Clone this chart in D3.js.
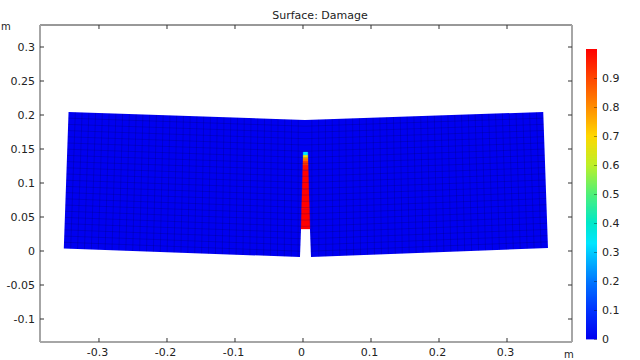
<!DOCTYPE html>
<html>
<head>
<meta charset="utf-8">
<script src="https://d3js.org/d3.v7.min.js"></script>
<style>
html, body { margin: 0; padding: 0; background: #fff; }
svg { display: block; }
text { font-family: "DejaVu Sans", sans-serif; font-size: 11px; fill: #222; }
</style>
</head>
<body>
<div id="chart"></div>
<script>
var xTicks = [-0.3, -0.2, -0.1, 0, 0.1, 0.2, 0.3];
var yTicks = [-0.1, -0.05, 0, 0.05, 0.1, 0.15, 0.2, 0.25, 0.3];
var barTicks = [0, 0.1, 0.2, 0.3, 0.4, 0.5, 0.6, 0.7, 0.8, 0.9];

// deformed outline of the beam, metres
var outlineX = [-0.351, -0.344, 0.0037, 0.354, 0.361, 0.0125, 0.011, -0.0022, -0.0037];
var outlineY = [0.003, 0.2037, 0.192, 0.2037, 0.0037, -0.0096, 0.0316, 0.0316, -0.0096];

// mesh blocks either side of the crack: bottom outer, top outer, top centre, bottom centre
var leftBlockX = [-0.351, -0.344, 0.0037, 0.0037];
var leftBlockY = [0.003, 0.2037, 0.192, -0.0105];
var rightBlockX = [0.361, 0.354, 0.0037, 0.0037];
var rightBlockY = [0.0037, 0.2037, 0.192, -0.0105];
var meshCols = 35;
var meshRows = 22;

// damaged strip, bottom to tip
var crackY = [0.0316, 0.06, 0.09, 0.118, 0.1257, 0.1316, 0.136, 0.1404, 0.1448];
var crackLeft = [-0.0022, -0.0014, -0.0005, 0.0003, 0.0005, 0.0007, 0.0008, 0.001, 0.0011];
var crackRight = [0.011, 0.0102, 0.0093, 0.0085, 0.0083, 0.0081, 0.008, 0.0078, 0.0077];
var crackDamage = [1, 1, 1, 0.98, 0.92, 0.84, 0.68, 0.33];

var colorStops = [0, 0.1, 0.2, 0.33, 0.4, 0.5, 0.6, 0.7, 0.8, 0.9, 1];
var colorValues = ["#0000f0", "#0034ff", "#0078ff", "#00e6ff", "#00e8c8", "#50f078", "#bef028", "#ffd700", "#ff8c00", "#ff4600", "#ff0000"];

var width = 640, height = 360;
var plot = { left: 40, right: 572, top: 25, bottom: 342 };
var bar = { left: 586, right: 597, top: 49, bottom: 339 };

var svg = d3.select("#chart").append("svg")
    .attr("width", width)
    .attr("height", height);

var x = d3.scaleLinear().domain([-0.386, 0.3963]).range([plot.left, plot.right]);
var y = d3.scaleLinear().domain([0, 0.3]).range([250.5, 46.5]);
var color = d3.scaleLinear().domain(colorStops).range(colorValues);
var barScale = d3.scaleLinear().domain([0, 1]).range([bar.bottom, bar.top]);

var outline = outlineX.map(function(d, i) { return [x(d), y(outlineY[i])]; });

svg.append("clipPath").attr("id", "beam")
    .append("polygon")
    .attr("points", outline.join(" "));

svg.append("polygon")
    .attr("points", outline.join(" "))
    .attr("fill", color(0));

svg.append("g").selectAll("polygon")
    .data(crackDamage)
    .enter()
    .append("polygon")
    .attr("points", function(d, i) {
        return [
            [x(crackLeft[i]), y(crackY[i])],
            [x(crackRight[i]), y(crackY[i])],
            [x(crackRight[i + 1]), y(crackY[i + 1])],
            [x(crackLeft[i + 1]), y(crackY[i + 1])]
        ].join(" ");
    })
    .attr("fill", function(d) { return color(d); })
    .attr("stroke", function(d) { return color(d); })
    .attr("stroke-width", 0.3);

function corner(xs, ys, i) { return [x(xs[i]), y(ys[i])]; }

function lerp(a, b, t) { return [a[0] + (b[0] - a[0]) * t, a[1] + (b[1] - a[1]) * t]; }

function drawMesh(xs, ys) {
    var p0 = corner(xs, ys, 0), p1 = corner(xs, ys, 1), p2 = corner(xs, ys, 2), p3 = corner(xs, ys, 3);
    var g = svg.append("g").attr("clip-path", "url(#beam)");
    var lines = [];
    d3.range(1, meshCols).forEach(function(i) {
        lines.push([lerp(p0, p3, i / meshCols), lerp(p1, p2, i / meshCols)]);
    });
    d3.range(1, meshRows).forEach(function(j) {
        lines.push([lerp(p0, p1, j / meshRows), lerp(p3, p2, j / meshRows)]);
    });
    g.selectAll("line")
        .data(lines)
        .enter()
        .append("line")
        .attr("x1", function(d) { return d[0][0]; })
        .attr("y1", function(d) { return d[0][1]; })
        .attr("x2", function(d) { return d[1][0]; })
        .attr("y2", function(d) { return d[1][1]; })
        .attr("stroke", "#000040")
        .attr("stroke-opacity", 0.28)
        .attr("stroke-width", 0.7);
}

drawMesh(leftBlockX, leftBlockY);
drawMesh(rightBlockX, rightBlockY);

function label(d) { return String(d); }

// frame: light grey on three sides, thin dark on top
svg.append("g")
    .attr("class", "axis-top")
    .attr("transform", "translate(0," + plot.top + ")")
    .call(d3.axisTop(x).tickValues(xTicks).tickSize(-4).tickFormat(""));
svg.append("g")
    .attr("class", "axis-right")
    .attr("transform", "translate(" + plot.right + ",0)")
    .call(d3.axisRight(y).tickValues(yTicks).tickSize(-4).tickFormat(""));
svg.append("g")
    .attr("class", "axis-bottom")
    .attr("transform", "translate(0," + plot.bottom + ")")
    .call(d3.axisBottom(x).tickValues(xTicks).tickSize(-4).tickPadding(6).tickFormat(label));
svg.append("g")
    .attr("class", "axis-left")
    .attr("transform", "translate(" + plot.left + ",0)")
    .call(d3.axisLeft(y).tickValues(yTicks).tickSize(-4).tickPadding(5).tickFormat(label));

svg.selectAll(".axis-top .domain, .axis-top .tick line, .axis-right .tick line, .axis-bottom .tick line, .axis-left .tick line")
    .attr("stroke", "#333")
    .attr("stroke-width", 1);
svg.selectAll(".axis-right .domain, .axis-bottom .domain, .axis-left .domain")
    .attr("stroke", "#a6a6a6")
    .attr("stroke-width", 2);
svg.selectAll(".domain").attr("d", function() {
    var axis = d3.select(this.parentNode).attr("class");
    if (axis == "axis-top" || axis == "axis-bottom") return "M" + plot.left + ",0H" + plot.right;
    return "M0," + plot.top + "V" + plot.bottom;
});
svg.selectAll(".axis-bottom .tick text").attr("dx", -1.5);
svg.selectAll("g").attr("font-family", null).attr("font-size", null);

// colour legend
svg.append("g").selectAll("rect")
    .data(d3.range(0, 1, 1 / 290))
    .enter()
    .append("rect")
    .attr("x", bar.left)
    .attr("y", function(d) { return barScale(d) - 1; })
    .attr("width", bar.right - bar.left)
    .attr("height", 1.4)
    .attr("fill", function(d) { return color(d); });

svg.append("g")
    .attr("class", "axis-bar")
    .attr("transform", "translate(" + bar.right + ",0)")
    .call(d3.axisRight(barScale).tickValues(barTicks).tickSize(-3).tickPadding(5).tickFormat(label));
svg.select(".axis-bar .domain").remove();
svg.selectAll(".axis-bar .tick line").attr("stroke", "#000").attr("stroke-opacity", 0.35);
svg.selectAll(".axis-bar").attr("font-family", null).attr("font-size", null);

svg.append("text").attr("x", 320).attr("y", 19).attr("text-anchor", "middle").text("Surface: Damage");
svg.append("text").attr("x", 1).attr("y", 30).style("font-size", "10px").text("m");
svg.append("text").attr("x", 564).attr("y", 358).style("font-size", "10px").text("m");
</script>
</body>
</html>
